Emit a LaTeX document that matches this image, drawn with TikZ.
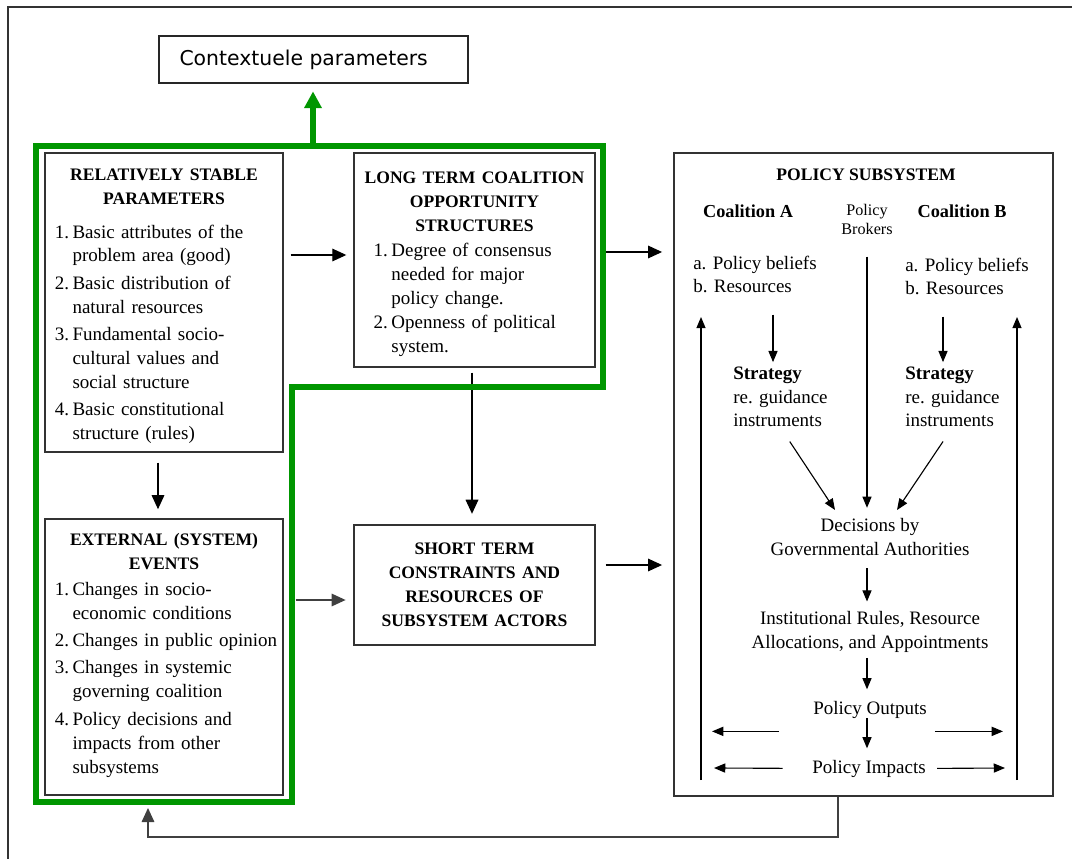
\documentclass[tikz,border=0pt]{standalone}
\usepackage{fontspec}
\setmainfont{Liberation Serif}
\newfontfamily\ctxfont{DejaVu Sans}
\usepackage{xcolor}
\usetikzlibrary{arrows.meta, positioning}

\definecolor{ctxgreen}{RGB}{0,150,0}
\newcommand{\boxfont}{\fontsize{13.5}{17}\selectfont}
\newcommand{\headfont}{\fontsize{12.5}{17}\selectfont\bfseries}
\newcommand{\boxhead}[1]{{\centering\headfont #1\par}}

\begin{document}
\begin{tikzpicture}[
x=0.025cm, y=-0.025cm,
box/.style={draw=black!80, line width=0.9pt, rectangle,
inner xsep=5pt, inner ysep=0pt,
font=\boxfont},
txt/.style={inner sep=0pt, font=\boxfont},
arrow/.style={-{Triangle[length=10pt, width=9pt]}, line width=0.9pt},
smallarrow/.style={-{Triangle[length=8pt, width=6.5pt]}, line width=0.8pt},
ctxframe/.style={draw=ctxgreen, line width=3.6pt}
]
\useasboundingbox (0,0) rectangle (1072,859);

% outer frame
\draw[black!80, line width=0.9pt] (8,859) -- (8,7) -- (1072,7);

\node[draw=black!85, line width=0.9pt, minimum width=7.725cm, minimum height=1.175cm,
inner sep=0pt, font=\ctxfont\fontsize{14.5}{17}\selectfont] (context) at (313.5,59.5) {Contextuele parameters\hspace*{14pt}};

% left column and middle column
\node[box, text width=5.6cm, minimum height=7.475cm] (stable) at (164,302.5) {%
\boxhead{\rule{0pt}{16pt}RELATIVELY STABLE\\PARAMETERS}
\vspace{7pt}
\hspace*{2pt}\begin{tabular}[t]{@{}l@{\hspace{2.5pt}}l@{}}
1. & Basic attributes of the\\
 & problem area (good)\\[2.5pt]
2. & Basic distribution of\\
 & natural resources\\[2.5pt]
3. & Fundamental socio-\\
 & cultural values and\\
 & social structure\\[2.5pt]
4. & Basic constitutional\\
 & structure (rules)
\end{tabular}};

\node[box, text width=5.673cm, minimum height=5.35cm] (longterm) at (474.5,260) {%
\boxhead{\rule{0pt}{16pt}LONG TERM COALITION\\OPPORTUNITY\\STRUCTURES}
\vspace{1pt}
\hspace*{9pt}\begin{tabular}[t]{@{}l@{\hspace{2.5pt}}l@{}}
1. & Degree of consensus\\
 & needed for major\\
 & policy change.\\
2. & Openness of political\\
 & system.
\end{tabular}};

\node[box, text width=5.6cm, minimum height=6.9cm] (external) at (164,657) {%
\boxhead{EXTERNAL (SYSTEM)\\EVENTS}
\vspace{1pt}
\hspace*{2pt}\begin{tabular}[t]{@{}l@{\hspace{2.5pt}}l@{}}
1. & Changes in socio-\\
 & economic conditions\\[2.5pt]
2. & Changes in public opinion\\[2.5pt]
3. & Changes in systemic\\
 & governing coalition\\[2.5pt]
4. & Policy decisions and\\
 & impacts from other\\
 & subsystems
\end{tabular}};

\node[box, text width=5.673cm, minimum height=3cm] (shortterm) at (474.5,585) {%
\boxhead{SHORT TERM\\CONSTRAINTS AND\\RESOURCES OF\\SUBSYSTEM ACTORS}};

% policy subsystem
\node[draw=black!80, line width=0.9pt, minimum width=9.475cm, minimum height=16.075cm,
inner sep=0pt] (subsys) at (863.5,474.5) {};

\node[txt, anchor=base, font=\headfont] (pstitle) at (866,181) {POLICY SUBSYSTEM};
\node[txt, anchor=base, font=\fontsize{13}{17}\selectfont\bfseries] (coalA) at (748,218) {Coalition A};
\node[txt, anchor=base, align=center, font=\fontsize{11.5}{14}\selectfont] (brokers) at (867,235) {Policy\\Brokers};
\node[txt, anchor=base, font=\fontsize{13}{17}\selectfont\bfseries] (coalB) at (962,218) {Coalition B};
\node[txt, anchor=base west, align=left] (beliefsA) at (693,293) {a. Policy beliefs\\b. Resources};
\node[txt, anchor=base west, align=left] (beliefsB) at (905,295) {a. Policy beliefs\\b. Resources};
\node[txt, anchor=base west, align=left] (stratA) at (733,427) {\textbf{Strategy}\\re. guidance\\instruments};
\node[txt, anchor=base west, align=left] (stratB) at (905,427) {\textbf{Strategy}\\re. guidance\\instruments};
\node[txt, anchor=base, align=center] (decide) at (870,555) {Decisions by\\Governmental Authorities};
\node[txt, anchor=base, align=center] (rules) at (870,648) {Institutional Rules, Resource\\Allocations, and Appointments};
\node[txt, anchor=base] (outputs) at (870,714) {Policy Outputs};
\node[txt, anchor=base] (impacts) at (869,773) {Policy Impacts};

% guide coordinates
\coordinate (row1) at (0,255);
\coordinate (row2) at (0,252);
\coordinate (row3) at (0,600);
\coordinate (row4) at (0,565);
\coordinate (col1) at (158,0);
\coordinate (col2) at (472,0);
\coordinate (colA) at (773,0);
\coordinate (colB) at (943,0);
\coordinate (mid) at (867,0);
\coordinate (tipA) at (835,510);
\coordinate (tipB) at (897,510);
\coordinate (impL) at (714,768);
\coordinate (impR) at (1005,768);
\coordinate (loopA) at (701,780);
\coordinate (loopB) at (1017,780);
\coordinate (fbA) at (838,837);
\coordinate (fbB) at (148,808);
\coordinate (gtop) at (313,146);

% arrows between the boxes
\draw[arrow, shorten <=5pt, shorten >=5pt] (stable.east |- row1) -- (longterm.west |- row1);
\draw[arrow, shorten <=5.5pt, shorten >=8pt] (longterm.east |- row2) -- (subsys.west |- row2);
\draw[arrow, draw=black!75, shorten <=8.5pt, shorten >=5.5pt] (external.east |- row3) -- (shortterm.west |- row3);
\draw[arrow, shorten <=7pt, shorten >=8pt] (shortterm.east |- row4) -- (subsys.west |- row4);
\draw[arrow, shorten <=7pt, shorten >=6.5pt] (stable.south -| col1) -- (external.north -| col1);
\draw[arrow, shorten <=3.5pt, shorten >=7.5pt] (longterm.south -| col2) -- (shortterm.north -| col2);
\draw[arrow, draw=black!75] (subsys.south -| fbA) -- (fbA) -| (fbB);

% inside the subsystem
\draw[smallarrow, shorten <=15pt, shorten >=3pt] (beliefsA.south -| colA) -- (stratA.north -| colA);
\draw[smallarrow, shorten <=15pt, shorten >=3pt] (beliefsB.south -| colB) -- (stratB.north -| colB);
\draw[smallarrow, shorten <=15pt, shorten >=7pt] (brokers.south -| mid) -- (decide.north -| mid);
\draw[smallarrow, shorten <=12pt] (stratA.south) -- (tipA);
\draw[smallarrow, shorten <=12pt] (stratB.south) -- (tipB);
\draw[smallarrow, shorten <=9pt, shorten >=6.5pt] (decide.south -| mid) -- (rules.north -| mid);
\draw[smallarrow, shorten <=4pt, shorten >=8pt] (rules.south -| mid) -- (outputs.north -| mid);
\draw[smallarrow, shorten >=8pt] (outputs.south -| mid) -- (impacts.north -| mid);
\draw[smallarrow] (outputs.south west) ++(-34,13) -- ++(-67,0);
\draw[smallarrow] (outputs.south east) ++(8,13) -- ++(68,0);
\draw[smallarrow, shorten <=21pt] (impacts.west) -- (impL);
\draw[smallarrow, shorten <=8pt] (impacts.east) -- (impR);
\draw[smallarrow] (loopA) -- ++(0,-463);
\draw[smallarrow] (loopB) -- ++(0,-463);

% contextual frame
\draw[ctxframe] (36,146) -- (603,146) -- (603,387) -- (292,387) -- (292,802) -- (36,802) -- cycle;
\draw[ctxframe, -{Triangle[length=12pt, width=12pt]}, shorten >=5.5pt] (gtop) -- (context.south -| gtop);

\end{tikzpicture}
\end{document}
